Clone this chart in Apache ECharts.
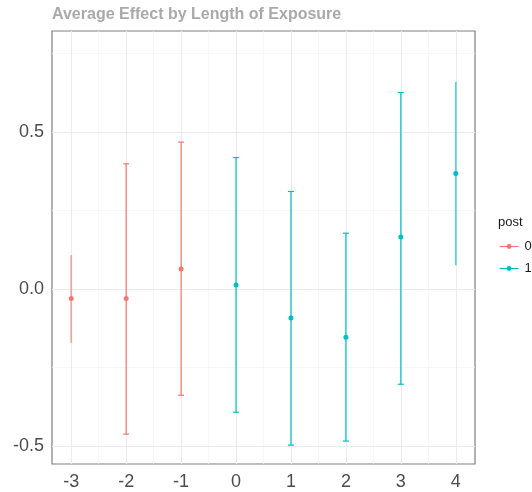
<!DOCTYPE html>
<html>
<head>
<meta charset="utf-8">
<script src="https://cdn.jsdelivr.net/npm/echarts@6/dist/echarts.min.js"></script>
<style>
  html, body { margin: 0; padding: 0; background: #fff; }
  #chart { width: 532px; height: 492px; }
</style>
</head>
<body>
<div id="chart"></div>
<script>
// values
const exposure = [-3, -2, -1, 0, 1, 2, 3, 4]
const post = [0, 0, 0, 1, 1, 1, 1, 1]
const estimate = [-0.030, -0.030, 0.064, 0.013, -0.092, -0.153, 0.166, 0.368]
const lower = [-0.171, -0.462, -0.338, -0.392, -0.497, -0.484, -0.303, 0.076]
const upper = [0.108, 0.399, 0.468, 0.419, 0.311, 0.178, 0.626, 0.660]

const xTicks = [-3, -2, -1, 0, 1, 2, 3, 4]
const xMinor = [-2.5, -1.5, -0.5, 0.5, 1.5, 2.5, 3.5]
const yTicks = [-0.5, 0, 0.5]
const yMinor = [-0.25, 0.25, 0.75]
const groups = ['0', '1']

const colors = {'0': '#F8766D', '1': '#00BFC4'}
const font = '"Liberation Sans", Arial, sans-serif'

const majorLine = {color: '#ebebeb', width: 1.1, type: 'solid'}
const minorLine = {color: '#f4f4f4', width: 0.7, type: 'solid'}
const gridLines = []
  .concat(xMinor.map(v => ({xAxis: v, lineStyle: minorLine})))
  .concat(yMinor.map(v => ({yAxis: v, lineStyle: minorLine})))
  .concat(xTicks.map(v => ({xAxis: v, lineStyle: majorLine})))
  .concat(yTicks.map(v => ({yAxis: v, lineStyle: majorLine})))

function barItem (params, api) {
  const x = api.value(0)
  const lo = api.coord([x, api.value(1)])
  const hi = api.coord([x, api.value(2)])
  const color = colors[String(api.value(3))]
  const end = x === exposure[0] || x === exposure[exposure.length - 1]
  const children = [{
    type: 'line',
    shape: {x1: lo[0], y1: lo[1], x2: hi[0], y2: hi[1]},
    style: {stroke: color, lineWidth: end ? 1.7 : 1.2, opacity: end ? 0.65 : 1}
  }]
  if (!end) {
    const w = 3
    children.push({type: 'line', shape: {x1: lo[0] - w, y1: lo[1], x2: lo[0] + w, y2: lo[1]}, style: {stroke: color, lineWidth: 1.2}})
    children.push({type: 'line', shape: {x1: hi[0] - w, y1: hi[1], x2: hi[0] + w, y2: hi[1]}, style: {stroke: color, lineWidth: 1.2}})
  }
  return {type: 'group', children: children}
}

const barData = exposure.map((x, i) => [x, lower[i], upper[i], post[i]])

const pointSeries = groups.map(g => ({
  name: g,
  type: 'line',
  z: 5,
  data: exposure.map((x, i) => [x, estimate[i], post[i]]).filter(d => String(d[2]) === g),
  symbol: 'circle',
  symbolSize: 5,
  showSymbol: true,
  color: colors[g],
  itemStyle: {color: colors[g]},
  lineStyle: {width: 0, opacity: 0},
  animation: false
}))

const chart = echarts.init(document.getElementById('chart'), null, {renderer: 'canvas'})
chart.setOption({
  animation: false,
  backgroundColor: '#fff',
  title: {
    text: 'Average Effect by Length of Exposure',
    left: 52, top: 7, padding: 0,
    textStyle: {fontFamily: font, fontSize: 16, fontWeight: 'bold', color: '#a9a9a9'}
  },
  graphic: [{
    type: 'text', left: 498, top: 216,
    style: {text: 'post', fontFamily: font, fontSize: 13, fill: '#1a1a1a'}
  }],
  legend: {
    orient: 'vertical',
    left: 499, top: 240, padding: 0,
    itemWidth: 19, itemHeight: 6, itemGap: 9,
    textStyle: {fontFamily: font, fontSize: 13, color: '#1a1a1a', padding: [0, 0, 0, 1]},
    data: groups.map(g => ({
      name: g,
      itemStyle: {color: colors[g]},
      lineStyle: {color: colors[g], width: 1.2, opacity: 1}
    }))
  },
  grid: {
    left: 52, right: 57, top: 31, bottom: 28,
    show: true, borderColor: '#7f7f7f', borderWidth: 1.2, backgroundColor: '#fff'
  },
  xAxis: {
    type: 'value', min: -3.35, max: 4.35,
    axisLine: {show: false},
    splitLine: {show: false},
    axisTick: {show: true, customValues: xTicks, length: 4, lineStyle: {color: '#555'}},
    axisLabel: {customValues: xTicks, fontFamily: font, fontSize: 18, color: '#4d4d4d', margin: 9}
  },
  yAxis: {
    type: 'value', min: -0.557, max: 0.822,
    axisLine: {show: false},
    splitLine: {show: false},
    axisTick: {show: true, customValues: yTicks, length: 4, lineStyle: {color: '#555'}},
    axisLabel: {customValues: yTicks, fontFamily: font, fontSize: 18, color: '#4d4d4d', margin: 8,
      formatter: v => v.toFixed(1)}
  },
  series: [
    {
      type: 'line', name: 'grid', z: 1, silent: true, data: [], animation: false,
      markLine: {z: 1, silent: true, symbol: 'none', label: {show: false}, animation: false, data: gridLines}
    },
    {type: 'custom', name: 'bars', z: 3, silent: true, renderItem: barItem, data: barData, animation: false}
  ].concat(pointSeries)
})
</script>
</body>
</html>
